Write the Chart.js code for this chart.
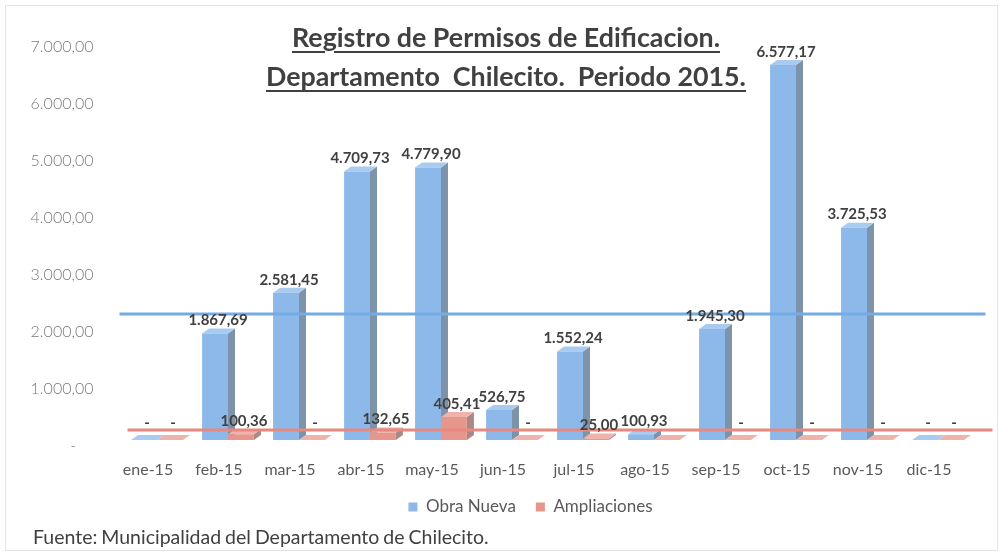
<!DOCTYPE html>
<html>
<head>
<meta charset="utf-8">
<script src="https://cdn.jsdelivr.net/npm/chart.js@4.4.1/dist/chart.umd.min.js"></script>
<style>
  html, body { margin: 0; padding: 0; background: #ffffff; }
  #wrap { position: relative; width: 1004px; height: 557px; overflow: hidden; background: #fff; }
  #frame { position: absolute; left: 5px; top: 5px; width: 993px; height: 546px; border: 1px solid #e4e4e4; box-sizing: border-box; }
  canvas { position: absolute; left: 0; top: 0; }
  #title { position: absolute; left: 0; top: 18px; width: 1012px; text-align: center;
           font-family: Lato, 'Open Sans', sans-serif; font-weight: bold; font-size: 26.8px; line-height: 39px;
           color: #404040; text-decoration: underline; text-decoration-thickness: 2px; text-underline-offset: 4px; }
  #fuente { position: absolute; left: 33px; top: 525px; font-family: Lato, 'Open Sans', sans-serif; font-size: 19.5px;
            color: #404040; word-spacing: -1px; line-height: 24px; }
</style>
</head>
<body>
<div id="wrap">
  <div id="frame"></div>
  <canvas id="c" width="1004" height="557"></canvas>
  <div id="title">Registro de Permisos de Edificacion.<br>Departamento&nbsp; Chilecito.&nbsp; Periodo 2015.</div>
  <div id="fuente">Fuente: Municipalidad del Departamento de Chilecito.</div>
</div>
<script>
// ---- Data ----
const categorias = ['ene-15','feb-15','mar-15','abr-15','may-15','jun-15','jul-15','ago-15','sep-15','oct-15','nov-15','dic-15'];
const obraNueva = [0, 1867.69, 2581.45, 4709.73, 4779.90, 526.75, 1552.24, 100.93, 1945.30, 6577.17, 3725.53, 0];
const ampliaciones = [0, 100.36, 0, 132.65, 405.41, 0, 25.00, 0, 0, 0, 0, 0];
const yTicks = [0, 1000, 2000, 3000, 4000, 5000, 6000, 7000];
const lineaObraNueva = 2210;     // horizontal reference line (blue)
const lineaAmpliaciones = 175;   // horizontal reference line (red)

// ---- Styles ----
const COL = {
  blueFront: '#8cb9e9', blueSide: '#7c93a9', blueTop: '#a9cbef',
  redFront: '#e7968e', redSide: '#a98886', redTop: '#eeb3ab',
  blueLine: '#74abe2', redLine: '#e8887e'
};
const DX = 7, DY = -5;

function fmt(v) {
  if (v === 0) return '-';
  const parts = v.toFixed(2).split('.');
  parts[0] = parts[0].replace(/\B(?=(\d{3})+(?!\d))/g, '.');
  return parts[0] + ',' + parts[1];
}

const faces3D = {
  id: 'faces3D',
  beforeDatasetsDraw(chart) {
    const ctx = chart.ctx;
    const sides = [COL.blueSide, COL.redSide];
    const tops = [COL.blueTop, COL.redTop];
    chart.data.datasets.forEach((ds, di) => {
      const meta = chart.getDatasetMeta(di);
      meta.data.forEach((bar) => {
        const p = bar.getProps(['x', 'y', 'base', 'width'], true);
        const l = p.x - p.width / 2, r = p.x + p.width / 2;
        const top = Math.min(p.y, p.base), base = Math.max(p.y, p.base);
        ctx.save();
        ctx.fillStyle = sides[di];
        ctx.beginPath();
        ctx.moveTo(r, top); ctx.lineTo(r + DX, top + DY); ctx.lineTo(r + DX, base + DY); ctx.lineTo(r, base);
        ctx.closePath(); ctx.fill();
        ctx.fillStyle = tops[di];
        ctx.beginPath();
        ctx.moveTo(l, top); ctx.lineTo(l + DX, top + DY); ctx.lineTo(r + DX, top + DY); ctx.lineTo(r, top);
        ctx.closePath(); ctx.fill();
        ctx.restore();
      });
    });
  },
  afterDatasetsDraw(chart) {
    const ctx = chart.ctx;
    const y = chart.scales.y;
    const a = chart.chartArea;
    // reference lines
    [[lineaObraNueva, COL.blueLine, a.left - 2, a.right + 12], [lineaAmpliaciones, COL.redLine, a.left + 6, a.right + 19]].forEach(([v, c, x1, x2]) => {
      const py = y.getPixelForValue(v);
      ctx.save();
      ctx.strokeStyle = c; ctx.lineWidth = 3;
      ctx.beginPath(); ctx.moveTo(x1, py); ctx.lineTo(x2, py); ctx.stroke();
      ctx.restore();
    });
    // data labels (a zero label that would collide with an existing label is skipped)
    ctx.save();
    ctx.font = 'bold 15px Lato, "Open Sans", sans-serif';
    ctx.fillStyle = '#404040';
    ctx.textAlign = 'center';
    ctx.textBaseline = 'middle';
    const boxes = [];
    chart.data.datasets.forEach((ds, di) => {
      const meta = chart.getDatasetMeta(di);
      meta.data.forEach((bar, i) => {
        const p = bar.getProps(['x', 'y', 'base'], true);
        const top = Math.min(p.y, p.base);
        const v = ds.data[i];
        const t = fmt(v);
        const cx = p.x + 3, cy = top - (v === 0 ? 17 : 13);
        const w = ctx.measureText(t).width;
        const b = { l: cx - w / 2, r: cx + w / 2, t: cy - 8, b: cy + 8 };
        if (v === 0 && boxes.some(o => b.l < o.r + 3 && b.r > o.l - 3 && b.t < o.b && b.b > o.t)) return;
        boxes.push(b);
        ctx.fillText(t, cx, cy);
      });
    });
    ctx.restore();
  },
  afterLayout(chart) {
    if (chart.legend) { chart.legend.left += 33; chart.legend.right += 33; }
  }
};

new Chart(document.getElementById('c'), {
  type: 'bar',
  data: {
    labels: categorias,
    datasets: [
      { label: 'Obra Nueva', data: obraNueva, backgroundColor: COL.blueFront, borderWidth: 0 },
      { label: 'Ampliaciones', data: ampliaciones, backgroundColor: COL.redFront, borderWidth: 0 }
    ]
  },
  options: {
    responsive: false,
    animation: false,
    devicePixelRatio: 1,
    layout: { padding: { left: 21.5, right: 30.5, top: 41, bottom: 31.5 } },
    datasets: { bar: { categoryPercentage: 0.73, barPercentage: 1 } },
    scales: {
      x: {
        grid: { display: false, drawTicks: false },
        border: { display: false },
        ticks: { color: '#595959', font: { family: 'Lato', size: 16 }, padding: 20, labelOffset: -9, maxRotation: 0 },
        afterFit(axis) { axis.height = 38.5; }
      },
      y: {
        min: 0, max: 7000,
        grid: { display: false, drawTicks: false },
        border: { display: false },
        afterBuildTicks(axis) { axis.ticks = yTicks.map(v => ({ value: v })); },
        ticks: {
          color: '#7a7a7a', font: { family: 'Lato', size: 16, weight: '300' }, padding: 28, labelOffset: 6,
          callback: (v) => v === 0 ? '-    ' : fmt(v)
        },
        afterFit(axis) { axis.width = 100; }
      }
    },
    plugins: {
      legend: {
        position: 'bottom',
        labels: { boxWidth: 9, boxHeight: 9, padding: 20, color: '#595959', font: { family: 'Lato', size: 17 } }
      },
      tooltip: { enabled: false },
      title: { display: false }
    }
  },
  plugins: [faces3D]
});
</script>
</body>
</html>
